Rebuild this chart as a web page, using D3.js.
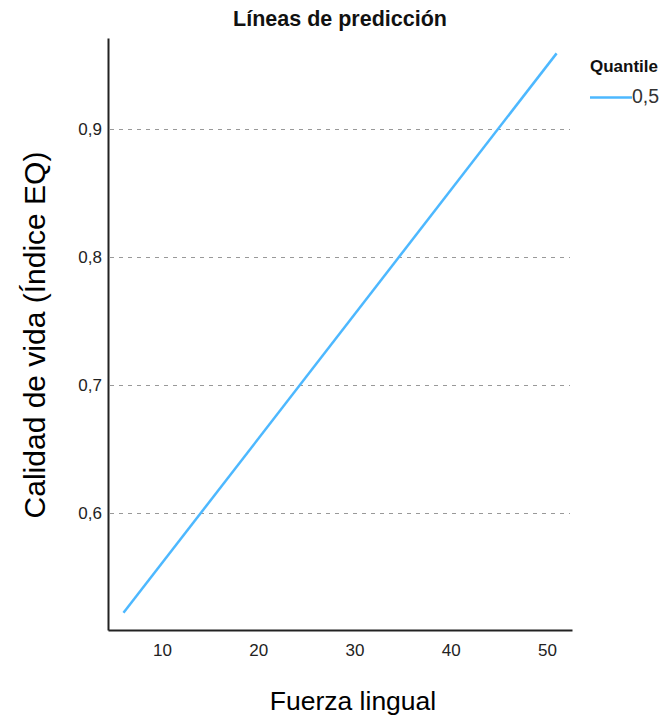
<!DOCTYPE html>
<html><head><meta charset="utf-8">
<script src="https://cdn.jsdelivr.net/npm/d3@7/dist/d3.min.js"></script>
<style>body{margin:0;background:#fff;}svg{display:block;}</style>
</head><body>
<script>
const xValues = [6, 51];
const yValues = [0.522, 0.959];
const xTicks = [10, 20, 30, 40, 50];
const yTicks = [0.6, 0.7, 0.8, 0.9];
const seriesName = "0,5";

(function () {
const W = 668, H = 715;
const svg = d3.select("body").append("svg").attr("width", W).attr("height", H);
const pLeft = 108, pRight = 572, pTop = 38, pBottom = 630;
const x = d3.scaleLinear().domain([4.39, 52.6]).range([pLeft, pRight]);
const y = d3.scaleLinear().domain([0.5086, 0.971]).range([pBottom, pTop]);
const font = "Liberation Sans, Arial, sans-serif";
const lineColor = "#4db8ff";

// grid
svg.append("g").selectAll("line").data(yTicks).join("line")
  .attr("x1", pLeft + 2).attr("x2", pRight - 2)
  .attr("y1", d => Math.round(y(d)) + 0.5).attr("y2", d => Math.round(y(d)) + 0.5)
  .attr("stroke", "#999").attr("stroke-width", 1).attr("stroke-dasharray", "4,5");

// axes
const yAxis = d3.axisLeft(y).tickValues(yTicks).tickSize(0).tickPadding(6)
  .tickFormat(d => d3.format(".1f")(d).replace(".", ","));
const gy = svg.append("g").attr("transform", `translate(${pLeft},0)`).call(yAxis);
gy.select(".domain").attr("stroke", "#222").attr("stroke-width", 2);
gy.selectAll("text").attr("font-family", font).attr("font-size", 17).attr("fill", "#222");

const xAxis = d3.axisBottom(x).tickValues(xTicks).tickSize(0).tickPadding(14);
const gx = svg.append("g").attr("transform", `translate(0,${pBottom})`).call(xAxis);
gx.select(".domain").attr("stroke", "#222").attr("stroke-width", 2);
gx.selectAll("text").attr("font-family", font).attr("font-size", 17).attr("fill", "#222");

// line
const pts = xValues.map((v, i) => [v, yValues[i]]);
svg.append("path").datum(pts)
  .attr("d", d3.line().x(d => x(d[0])).y(d => y(d[1])))
  .attr("fill", "none").attr("stroke", lineColor).attr("stroke-width", 2.5);

// title
svg.append("text").attr("x", 340).attr("y", 26).attr("text-anchor", "middle")
  .attr("font-family", font).attr("font-weight", "bold").attr("font-size", 21.5).attr("fill", "#111")
  .text("Líneas de predicción");

// axis labels
svg.append("text").attr("transform", "translate(45,335) rotate(-90)").attr("text-anchor", "middle")
  .attr("font-family", font).attr("font-size", 30).attr("fill", "#000")
  .text("Calidad de vida (Índice EQ)");
svg.append("text").attr("x", 353).attr("y", 710).attr("text-anchor", "middle")
  .attr("font-family", font).attr("font-size", 26.5).attr("fill", "#000")
  .text("Fuerza lingual");

// legend
svg.append("text").attr("x", 590).attr("y", 72)
  .attr("font-family", font).attr("font-weight", "bold").attr("font-size", 17).attr("fill", "#111")
  .text("Quantile");
svg.append("line").attr("x1", 590).attr("x2", 632).attr("y1", 97.5).attr("y2", 97.5)
  .attr("stroke", lineColor).attr("stroke-width", 2.5);
svg.append("text").attr("x", 632).attr("y", 103)
  .attr("font-family", font).attr("font-size", 19.5).attr("fill", "#333")
  .text(seriesName);
})();
</script>
</body></html>
